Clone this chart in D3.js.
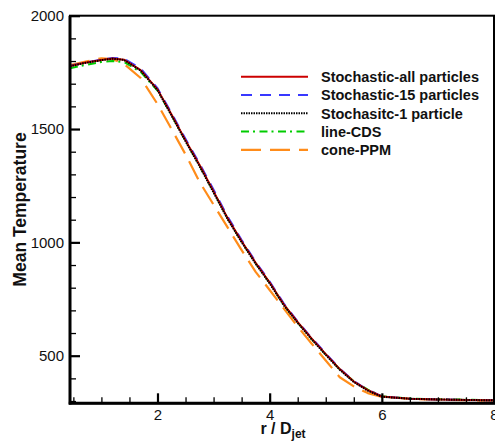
<!DOCTYPE html>
<html>
<head>
<meta charset="utf-8">
<script src="https://cdn.jsdelivr.net/npm/d3@7"></script>
<style>
  html, body { margin: 0; padding: 0; background: #fff; }
  svg { display: block; font-family: "Liberation Sans", Arial, sans-serif; }
</style>
</head>
<body>
<svg id="chart" width="495" height="444"></svg>
<script>
// ---- data ----
const rD = [0.44, 0.7, 1.0, 1.2, 1.4, 1.7, 2.0, 2.25, 2.5, 2.75, 3.0, 3.25, 3.5, 3.75, 4.0, 4.25, 4.5, 4.75, 5.0, 5.25, 5.5, 5.75, 6.0, 6.5, 7.0, 7.5, 8.0];
const stochAll = [1778, 1792, 1805, 1811, 1806, 1760, 1675, 1564, 1450, 1341, 1225, 1107, 1005, 910, 823, 727, 648, 575, 507, 441, 386, 348, 320, 310, 307, 305, 303];
const stoch15  = [1779, 1793, 1806, 1813, 1811, 1767, 1680, 1570, 1456, 1347, 1232, 1114, 1010, 914, 827, 731, 651, 578, 510, 443, 388, 349, 321, 310, 307, 305, 303];
const stoch1   = [1777, 1791, 1804, 1810, 1805, 1758, 1672, 1560, 1446, 1336, 1220, 1103, 1001, 906, 819, 723, 645, 572, 504, 438, 384, 346, 319, 310, 307, 305, 303];
const lineCDS  = [1768, 1782, 1796, 1800, 1796, 1752, 1670, 1561, 1448, 1339, 1223, 1105, 1003, 908, 821, 725, 646, 573, 505, 440, 387, 350, 321, 311, 308, 306, 304];
const conePPM  = [1782, 1797, 1812, 1808, 1788, 1725, 1610, 1500, 1388, 1267, 1166, 1066, 966, 870, 790, 709, 628, 553, 479, 405, 365, 335, 318, 310, 306, 304, 302];

const seriesNames = ["Stochastic-all particles", "Stochastic-15 particles", "Stochasitc-1 particle", "line-CDS", "cone-PPM"];
const seriesValues = [stochAll, stoch15, stoch1, lineCDS, conePPM];
const seriesColors = ["#cc0000", "#3838ff", "#000000", "#00cc00", "#ff8c1a"];
const seriesDash = [null, "11,8", "1.5,1", "8,4,2,4.5", "20,9"];
const seriesWidth = [2, 2, 2, 2, 2.2];

const xMajorTicks = [2, 4, 6, 8];
const xMinorTicks = [0.5, 1, 1.5, 2.5, 3, 3.5, 4.5, 5, 5.5, 6.5, 7, 7.5];
const yMajorTicks = [500, 1000, 1500, 2000];
const yMinorTicks = [300, 400, 600, 700, 800, 900, 1100, 1200, 1300, 1400, 1600, 1700, 1800, 1900];

// ---- layout ----
const L = 70, R = 494, T = 15.7, B = 403.3;
const svg = d3.select("#chart");
const x = d3.scaleLinear().domain([0.44, 8]).range([L, R]);
const y = d3.scaleLinear().domain([290, 2000]).range([B, T]);

svg.append("clipPath").attr("id", "clip")
  .append("rect").attr("x", L).attr("y", T).attr("width", R - L).attr("height", B - T);

// lines
const line = d3.line().x((d, i) => x(rD[i])).y(d => y(d));
const g = svg.append("g").attr("clip-path", "url(#clip)");
const order = [4, 3, 1, 0, 2];
order.forEach(k => {
  g.append("path")
    .datum(seriesValues[k])
    .attr("d", line)
    .attr("fill", "none")
    .attr("stroke", seriesColors[k])
    .attr("stroke-width", seriesWidth[k])
    .attr("stroke-dasharray", seriesDash[k])
    .attr("stroke-linejoin", "round");
});

// frame
svg.append("rect").attr("x", L).attr("y", T).attr("width", R - L).attr("height", B - T)
  .attr("fill", "none").attr("stroke", "#000").attr("stroke-width", 2);

// axes
function styleAxis(sel, w) {
  sel.select(".domain").remove();
  sel.selectAll(".tick line").attr("stroke", "#000").attr("stroke-width", w);
  sel.selectAll("text").attr("fill", "#111").style("font-size", "15px")
    .style("font-family", '"Liberation Sans", Arial, sans-serif');
}
const xMaj = svg.append("g").attr("transform", `translate(0,${B})`)
  .call(d3.axisBottom(x).tickValues(xMajorTicks).tickSize(-10).tickPadding(6).tickFormat(d3.format("d")));
styleAxis(xMaj, 2.2);
xMaj.selectAll("text").attr("dy", "0.71em");
const xMin = svg.append("g").attr("transform", `translate(0,${B})`)
  .call(d3.axisBottom(x).tickValues(xMinorTicks).tickSize(-6).tickFormat(""));
styleAxis(xMin, 1.3);

const yMaj = svg.append("g").attr("transform", `translate(${L},0)`)
  .call(d3.axisLeft(y).tickValues(yMajorTicks).tickSize(-10).tickPadding(6).tickFormat(d3.format("d")));
styleAxis(yMaj, 2.2);
const yMin = svg.append("g").attr("transform", `translate(${L},0)`)
  .call(d3.axisLeft(y).tickValues(yMinorTicks).tickSize(-6).tickFormat(""));
styleAxis(yMin, 1.3);

// thicker left & bottom axis lines
svg.append("line").attr("x1", L).attr("x2", L).attr("y1", T).attr("y2", B + 1.2)
  .attr("stroke", "#000").attr("stroke-width", 3);
svg.append("line").attr("x1", L - 1.2).attr("x2", R + 1).attr("y1", B).attr("y2", B)
  .attr("stroke", "#000").attr("stroke-width", 3);

// axis titles
const xt = svg.append("text").attr("x", 283).attr("y", 434)
  .attr("text-anchor", "middle").style("font-weight", "bold").style("font-size", "16px").attr("fill", "#111");
xt.append("tspan").text("r / D");
xt.append("tspan").attr("dy", 4).style("font-size", "12px").text("jet");

svg.append("text").attr("transform", `translate(26,${(T + B) / 2}) rotate(-90)`)
  .attr("text-anchor", "middle").style("font-weight", "bold").style("font-size", "17.5px")
  .attr("fill", "#111").text("Mean Temperature");

// legend
const leg = svg.append("g");
seriesNames.forEach((name, i) => {
  const yy = 76.7 + i * 18.3;
  leg.append("line").attr("x1", 241).attr("x2", 308).attr("y1", yy).attr("y2", yy)
    .attr("stroke", seriesColors[i]).attr("stroke-width", seriesWidth[i])
    .attr("stroke-dasharray", seriesDash[i]);
  leg.append("text").attr("x", 321).attr("y", yy).attr("dy", "0.36em")
    .style("font-weight", "bold").style("font-size", "14.5px").attr("fill", "#111").text(name);
});
</script>
</body>
</html>
